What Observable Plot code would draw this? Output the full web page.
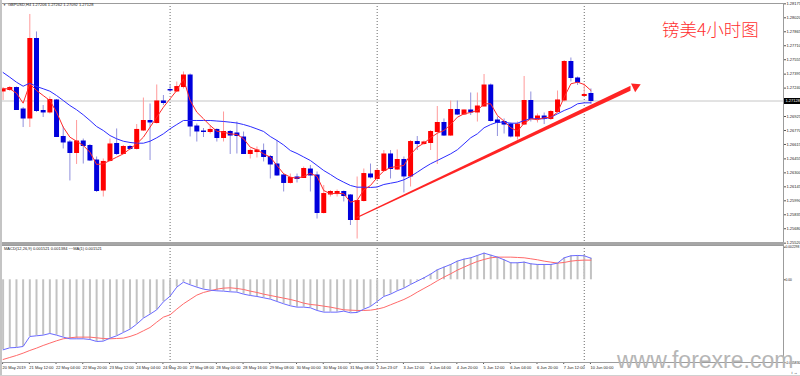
<!DOCTYPE html>
<html><head><meta charset="utf-8">
<script src="https://cdn.jsdelivr.net/npm/d3@7"></script>
<script src="https://cdn.jsdelivr.net/npm/@observablehq/plot@0.6"></script>
<style>
html,body{margin:0;padding:0;background:#fff;}
#wrap{position:relative;width:800px;height:376px;overflow:hidden;background:#fff;font-family:"Liberation Sans",Arial,sans-serif;}
#wrap svg{position:absolute;left:0;overflow:visible;}
.abs{position:absolute;white-space:nowrap;line-height:1;}
</style></head><body>
<div id="wrap"></div>
<script>
// ---- data (GBPUSD H4) ----
const symbolInfo = "GBPUSD,H4  1.27206 1.27262 1.27092 1.27128";
const macdInfo = "MACD(12,26,9) 0.001521 0.001384  ~~MA(1) 0.001521";
const title = "镑美4小时图";
const watermark = "www.forexre.com";

const timeTickBars = [0,4,8,12,16,20,24,28,32,36,40,44,48,52,56,60,64,68,72,76,80,84,88];
const timeLabels = ["20 May 2019","21 May 12:00","22 May 04:00","22 May 20:00","23 May 12:00","24 May 04:00","24 May 20:00","27 May 08:00","28 May 00:00","28 May 16:00","29 May 08:00","30 May 00:00","30 May 16:00","31 May 08:00","2 Jun 23:07","3 Jun 12:00","4 Jun 04:00","4 Jun 20:00","5 Jun 12:00","6 Jun 04:00","6 Jun 20:00","7 Jun 12:00","10 Jun 00:00"];
const weekStarts = [25, 56, 87];

const priceTickLabels = ["1.28175","1.28020","1.27865","1.27710","1.27555","1.27395","1.27240","1.27085","1.26925","1.26770","1.26615","1.26455","1.26300","1.26145","1.25990","1.25835","1.25680","1.25520"];
const macdTickValues = [0.002298, 0, -0.00583];
const macdTickLabels = ["0.002298","0.00","-0.005830"];

const open = [1.27234,1.27250,1.27272,1.27034,1.26934,1.27816,1.27017,1.27001,1.27134,1.26729,
1.26668,1.26551,1.26679,1.26629,1.26468,1.26135,1.26463,1.26651,1.26540,1.26618,
1.26596,1.26801,1.26906,1.26884,1.27123,1.27250,1.27234,1.27283,1.27411,1.26845,
1.26790,1.26784,1.26807,1.26718,1.26784,1.26768,1.26723,1.26540,1.26562,1.26574,
1.26507,1.26424,1.26302,1.26219,1.26280,1.26274,1.26368,1.26302,1.25886,1.26091,
1.26096,1.26119,1.26080,1.25808,1.26019,1.26313,1.26263,1.26352,1.26535,1.26368,
1.26474,1.26291,1.26673,1.26651,1.26662,1.26784,1.26884,1.26745,1.27028,1.26978,
1.27023,1.27001,1.27067,1.27300,1.26912,1.26895,1.26867,1.26734,1.26867,1.27128,
1.26929,1.26956,1.26929,1.27006,1.27134,1.27561,1.27378,1.27184,1.27206];
const high = [1.27278,1.27289,1.27283,1.27056,1.28088,1.27894,1.27078,1.27172,1.27145,1.26840,
1.26690,1.26912,1.26706,1.26646,1.26507,1.26485,1.26706,1.26818,1.26635,1.26635,
1.26867,1.27161,1.27095,1.27306,1.27189,1.27300,1.27339,1.27450,1.27428,1.26873,
1.26823,1.26856,1.26818,1.27006,1.26801,1.26895,1.26784,1.26596,1.26618,1.26651,
1.26524,1.26690,1.26318,1.26318,1.26318,1.26396,1.26413,1.26341,1.26191,1.26135,
1.26141,1.26130,1.26091,1.26285,1.26374,1.26429,1.26374,1.26579,1.26579,1.26585,
1.26507,1.26690,1.26734,1.26684,1.26801,1.27067,1.26929,1.27128,1.27128,1.27028,
1.27217,1.27217,1.27422,1.27317,1.26951,1.26929,1.26884,1.26895,1.27400,1.27228,
1.26984,1.26995,1.27023,1.27239,1.27577,1.27605,1.27394,1.27317,1.27262];
const low = [1.27134,1.27234,1.27023,1.26834,1.26834,1.27001,1.26945,1.26984,1.26723,1.26596,
1.26241,1.26424,1.26429,1.26457,1.26113,1.26063,1.26452,1.26524,1.26535,1.26579,
1.26585,1.26790,1.26468,1.26873,1.27078,1.27222,1.27222,1.27261,1.26729,1.26673,
1.26723,1.26762,1.26673,1.26673,1.26535,1.26540,1.26535,1.26485,1.26496,1.26452,
1.26263,1.26291,1.26119,1.26207,1.26219,1.26268,1.26119,1.25819,1.25875,1.26063,
1.26063,1.26008,1.25747,1.25597,1.26008,1.26263,1.26246,1.26341,1.26263,1.26357,
1.26108,1.26174,1.26579,1.26635,1.26579,1.26424,1.26734,1.26734,1.26967,1.26967,
1.26967,1.26895,1.27062,1.26895,1.26734,1.26762,1.26718,1.26695,1.26856,1.26895,
1.26884,1.26867,1.26912,1.26995,1.27117,1.27339,1.27300,1.27172,1.27092];
const close = [1.27256,1.27272,1.27028,1.26934,1.27816,1.27017,1.27001,1.27139,1.26729,1.26668,
1.26551,1.26679,1.26629,1.26468,1.26130,1.26452,1.26646,1.26540,1.26618,1.26596,
1.26807,1.26906,1.26890,1.27123,1.27106,1.27245,1.27283,1.27411,1.26845,1.26790,
1.26784,1.26807,1.26718,1.26784,1.26745,1.26740,1.26540,1.26574,1.26579,1.26507,
1.26424,1.26302,1.26219,1.26274,1.26263,1.26374,1.26302,1.25886,1.26096,1.26119,
1.26119,1.26074,1.25808,1.26019,1.26318,1.26280,1.26352,1.26535,1.26374,1.26474,
1.26291,1.26673,1.26651,1.26668,1.26784,1.26884,1.26745,1.27028,1.26978,1.27023,
1.27001,1.27067,1.27300,1.26906,1.26884,1.26867,1.26734,1.26867,1.27128,1.26929,
1.26956,1.26929,1.27006,1.27134,1.27561,1.27383,1.27333,1.27195,1.27128];

const maFast = [1.27264,1.27264,1.27215,1.27104,1.27319,1.27245,1.27189,1.27134,1.27004,1.26838,
1.26727,1.26682,1.26635,1.26560,1.26424,1.26432,1.26468,1.26505,1.26542,1.26598,
1.26653,1.26727,1.26838,1.26948,1.27059,1.27153,1.27245,1.27374,1.27134,1.27004,
1.26931,1.26856,1.26793,1.26782,1.26764,1.26757,1.26709,1.26616,1.26587,1.26542,
1.26505,1.26413,1.26321,1.26283,1.26272,1.26291,1.26327,1.26291,1.26135,1.26099,
1.26105,1.26099,1.26006,1.26024,1.26143,1.26191,1.26280,1.26352,1.26390,1.26402,
1.26413,1.26535,1.26616,1.26660,1.26720,1.26771,1.26801,1.26867,1.26948,1.26986,
1.27001,1.27023,1.27097,1.27097,1.26967,1.26904,1.26831,1.26793,1.26882,1.26931,
1.26920,1.26942,1.26948,1.27004,1.27170,1.27319,1.27337,1.27311,1.27245];
const maSlow = [1.27444,1.27392,1.27337,1.27292,1.27326,1.27289,1.27264,1.27237,1.27189,1.27134,
1.27078,1.27031,1.26975,1.26912,1.26845,1.26801,1.26745,1.26709,1.26682,1.26668,
1.26660,1.26660,1.26682,1.26720,1.26764,1.26820,1.26867,1.26912,1.26912,1.26912,
1.26912,1.26912,1.26906,1.26901,1.26893,1.26884,1.26867,1.26845,1.26818,1.26790,
1.26734,1.26690,1.26640,1.26579,1.26546,1.26507,1.26468,1.26413,1.26357,1.26313,
1.26265,1.26227,1.26191,1.26172,1.26172,1.26169,1.26174,1.26202,1.26216,1.26230,
1.26254,1.26291,1.26338,1.26387,1.26432,1.26468,1.26505,1.26542,1.26587,1.26653,
1.26720,1.26764,1.26831,1.26867,1.26893,1.26893,1.26882,1.26882,1.26912,1.26931,
1.26931,1.26931,1.26948,1.26986,1.27023,1.27053,1.27097,1.27108,1.27108];

const macd = [-0.004935,-0.004794,-0.004771,-0.004700,-0.003995,-0.003948,-0.003901,-0.003784,-0.003901,-0.004042,
-0.004160,-0.004160,-0.004160,-0.004207,-0.004348,-0.004324,-0.004113,-0.003948,-0.003713,-0.003478,
-0.003126,-0.002703,-0.002421,-0.002115,-0.001551,-0.001152,-0.000517,-0.000165,-0.000353,-0.000517,
-0.000658,-0.000729,-0.000776,-0.000799,-0.000846,-0.000870,-0.001011,-0.001105,-0.001175,-0.001269,
-0.001363,-0.001528,-0.001692,-0.001833,-0.001927,-0.001927,-0.001974,-0.002162,-0.002280,-0.002280,
-0.002280,-0.002209,-0.002327,-0.002303,-0.002068,-0.001880,-0.001528,-0.001175,-0.001011,-0.000776,
-0.000588,-0.000329,-0.000094,0.000141,0.000400,0.000705,0.000893,0.001081,0.001316,0.001457,
0.001551,0.001716,0.001880,0.001739,0.001598,0.001410,0.001199,0.001199,0.001246,0.001128,
0.001081,0.001081,0.001081,0.001175,0.001551,0.001692,0.001716,0.001692,0.001521];
const signal = [-0.005617,-0.005476,-0.005335,-0.005170,-0.004982,-0.004818,-0.004630,-0.004465,-0.004301,-0.004160,
-0.004089,-0.004042,-0.004042,-0.004042,-0.004089,-0.004136,-0.004160,-0.004136,-0.004113,-0.003995,
-0.003831,-0.003596,-0.003361,-0.002985,-0.002632,-0.002468,-0.002068,-0.001692,-0.001387,-0.001081,
-0.000893,-0.000776,-0.000658,-0.000588,-0.000564,-0.000611,-0.000682,-0.000799,-0.000893,-0.001011,
-0.001105,-0.001199,-0.001293,-0.001387,-0.001504,-0.001645,-0.001739,-0.001786,-0.001857,-0.001927,
-0.002021,-0.002115,-0.002139,-0.002162,-0.002162,-0.002139,-0.002068,-0.001951,-0.001763,-0.001575,
-0.001387,-0.001152,-0.000870,-0.000611,-0.000353,-0.000071,0.000188,0.000423,0.000682,0.000893,
0.001105,0.001293,0.001434,0.001551,0.001598,0.001598,0.001598,0.001575,0.001551,0.001481,
0.001410,0.001316,0.001246,0.001175,0.001222,0.001316,0.001363,0.001387,0.001384];

// hand-drawn trend arrow (bar index, price, half thickness in price)
const trendShaft = [{i: 53, p: 1.25828, w: 0.00007}, {i: 94.0, p: 1.27264, w: 0.00028}];
const trendHead = [{i: 94.69, p: 1.27288}];

// ---- build ----
const N = close.length;
const bars = d3.range(N).map(i => ({i, o: open[i], h: high[i], l: low[i], c: close[i], up: close[i] > open[i]}));
const xDomain = [-0.389, 116.827];
const font = "Liberation Sans, Arial, sans-serif";
const wrap = document.getElementById("wrap");

const main = Plot.plot({
  width: 800, height: 243,
  marginTop: 3, marginBottom: 1, marginLeft: 0, marginRight: 17,
  style: {fontFamily: font, background: "transparent", color: "#222"},
  x: {domain: xDomain, axis: null},
  y: {domain: [1.255585, 1.282097], axis: null},
  color: {type: "identity"},
  marks: [
    Plot.ruleY([close[N - 1]], {stroke: "#c6c6c6"}),
    Plot.ruleX(weekStarts, {stroke: "#6a6a6a", strokeDasharray: "1,2"}),
    Plot.ruleX(bars, {x: "i", y1: "h", y2: "l", stroke: d => d.up ? "#ff9a9a" : "#9090dc"}),
    Plot.ruleX(bars, {x: "i", y1: d => Math.max(d.o, d.c), y2: d => Math.min(d.o, d.c),
      stroke: d => d.up ? "#ff0000" : "#0000dc", strokeWidth: 5, insetTop: -0.5, insetBottom: -0.5}),
    Plot.line(bars, {x: "i", y: d => maSlow[d.i], stroke: "#2c2cff", strokeWidth: 1}),
    Plot.line(bars, {x: "i", y: d => maFast[d.i], stroke: "#ff2a2a", strokeWidth: 1}),
    Plot.areaY(trendShaft, {x: "i", y1: d => d.p - d.w, y2: d => d.p + d.w, fill: "#ff2424"}),
    Plot.dot(trendHead, {x: "i", y: "p", symbol: "triangle", r: 3.6, fill: "#ff2424", stroke: "none", rotate: 64.7}),
    Plot.axisY(priceTickLabels.map(Number), {anchor: "right", tickSize: 2, tickPadding: 1, fontSize: 4,
      dy: -2.8, tickFormat: d => d.toFixed(5), stroke: "#555"}),
    Plot.frame({stroke: "#9c9c9c"})
  ]
});
main.style.top = "0px";
wrap.appendChild(main);

const macdMap = new Map(macdTickValues.map((v, k) => [v, macdTickLabels[k]]));
const timeMap = new Map(timeTickBars.map((b, k) => [b, timeLabels[k]]));

const sub = Plot.plot({
  width: 800, height: 133,
  marginTop: 2, marginBottom: 14, marginLeft: 0, marginRight: 17,
  style: {fontFamily: font, background: "transparent", color: "#222"},
  x: {domain: xDomain},
  y: {domain: [-0.00583, 0.002418], axis: null},
  marks: [
    Plot.ruleX(weekStarts, {stroke: "#6a6a6a", strokeDasharray: "1,2", insetBottom: -5}),
    Plot.ruleX(bars, {x: "i", y1: 0, y2: d => macd[d.i], stroke: "#c2c2c2", strokeWidth: 2}),
    Plot.line(bars, {x: "i", y: d => signal[d.i], stroke: "#ff6a6a", strokeWidth: 1}),
    Plot.line(bars, {x: "i", y: d => macd[d.i], stroke: "#6a6aff", strokeWidth: 1}),
    Plot.axisY(macdTickValues, {anchor: "right", tickSize: 1.5, tickPadding: 0.5, fontSize: 3.3,
      tickFormat: d => macdMap.get(d), stroke: "#555"}),
    Plot.axisX(timeTickBars, {anchor: "bottom", tickSize: 2, tickPadding: 2, fontSize: 4,
      textAnchor: "start", dx: -0.5, tickFormat: d => timeMap.get(d), stroke: "#555"}),
    Plot.frame({stroke: "#9c9c9c"})
  ]
});
sub.style.top = "243px";
wrap.appendChild(sub);

function addDiv(text, css) {
  const el = document.createElement("div");
  el.className = "abs";
  el.textContent = text;
  Object.assign(el.style, css);
  wrap.appendChild(el);
  return el;
}
// panel divider and window edges
addDiv("", {left: "0px", top: "241.5px", width: "784px", height: "3px", background: "#a6a6a6"});
addDiv("", {left: "0px", top: "0px", width: "2px", height: "376px", background: "#c4c4c4"});
addDiv("", {left: "0px", top: "375px", width: "800px", height: "1px", background: "#d0d0d0"});

// current price box
const yb = main.scale("y").apply(close[N - 1]);
addDiv(close[N - 1].toFixed(5), {left: "783.5px", top: (yb - 3) + "px", width: "16px", height: "6px",
  background: "#000", color: "#fff", fontSize: "4px", lineHeight: "6px", paddingLeft: "2px", boxSizing: "border-box"});

addDiv("\u25BC", {left: "3px", top: "3.5px", fontSize: "3px", color: "#333"});
addDiv(symbolInfo, {left: "8px", top: "3px", fontSize: "4px", color: "#222"});
addDiv(macdInfo, {left: "4px", top: "247px", fontSize: "4px", color: "#222"});
addDiv(title, {left: "662px", top: "19.5px", fontSize: "17.5px", color: "#ff3030", fontFamily: "'Noto Sans CJK SC', sans-serif", fontWeight: "300"});
addDiv(watermark, {left: "617px", top: "349px", fontSize: "23px", color: "#b6b6b6", fontFamily: font});
</script>
</body></html>
